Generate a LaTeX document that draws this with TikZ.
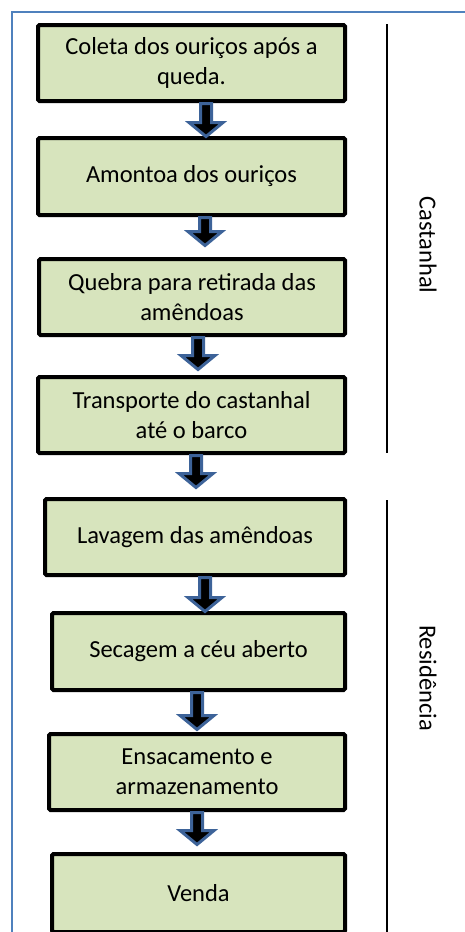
\documentclass[tikz,border=0pt]{standalone}
\usepackage{fontspec}
\setmainfont{Carlito}
\usetikzlibrary{calc}
\definecolor{boxfill}{HTML}{D7E4BD}
\definecolor{frameblue}{HTML}{4F81BD}
\definecolor{arrowblue}{HTML}{3D6399}
% #1 source node, #2 centre x (px), #3 length (px)
\newcommand\flowarr[3]{%
  \draw[blockarrow] let \p1=(#1.south) in
    (#2pt-5.5pt,\y1-0.5pt) -- (#2pt+5.5pt,\y1-0.5pt)
    -- (#2pt+5.5pt,\y1-#3pt+16.5pt) -- (#2pt+17pt,\y1-#3pt+16.5pt)
    -- (#2pt,\y1-#3pt+2.5pt)
    -- (#2pt-17pt,\y1-#3pt+16.5pt) -- (#2pt-5.5pt,\y1-#3pt+16.5pt) -- cycle;}
\begin{document}
\begin{tikzpicture}[x=1pt,y=-1pt,
  stepbox/.style={draw=black, line width=4pt, fill=boxfill, rounded corners=1.5pt,
    font=\fontsize{24.5}{30}\selectfont, align=center, inner sep=0pt},
  blockarrow/.style={fill=black, draw=arrowblue, line width=3pt, line join=miter},
  sidelabel/.style={font=\fontsize{24.5}{30}\selectfont, rotate=-90, inner sep=0pt},
  sideline/.style={draw=black, line width=1.3pt}]
\useasboundingbox (0,0) rectangle (464,932);
\draw[frameblue, line width=2pt] (12,945) -- (12,12) -- (475,12);

\node[stepbox, minimum width=307, minimum height=76] (b1) at (191.5,63)
  {Coleta dos ouriços após a\\queda.};
\node[stepbox, minimum width=307, minimum height=77] (b2) at (191.5,176.5)
  {Amontoa dos ouriços};
\node[stepbox, minimum width=306, minimum height=76] (b3) at (192,297)
  {Quebra para retirada das\\amêndoas};
\node[stepbox, minimum width=307, minimum height=76] (b4) at (191.5,415)
  {Transporte do castanhal\\até o barco};
\node[stepbox, minimum width=300, minimum height=76] (b5) at (195,537)
  {Lavagem das amêndoas};
\node[stepbox, minimum width=293, minimum height=77] (b6) at (198.5,651.5)
  {Secagem a céu aberto};
\node[stepbox, minimum width=296, minimum height=76] (b7) at (197,772)
  {Ensacamento e\\armazenamento};
\node[stepbox, minimum width=293, minimum height=78] (b8) at (198.5,893)
  {Venda};

\flowarr{b1}{206}{36}
\flowarr{b2}{205}{31}
\flowarr{b3}{198}{35}
\flowarr{b4}{196}{35}
\flowarr{b5}{205}{37}
\flowarr{b6}{197}{40}
\flowarr{b7}{197}{35}

\coordinate (l1a) at (387,24);
\coordinate (l1b) at (387,453);
\coordinate (l2a) at (387,500);
\coordinate (l2b) at (387,940);
\draw[sideline] (l1a) -- (l1b);
\draw[sideline] (l2a) -- (l2b);
\node[sidelabel] (castanhal) at (428,245) {Castanhal};
\node[sidelabel] (residencia) at (428,678) {Residência};
\end{tikzpicture}
\end{document}
